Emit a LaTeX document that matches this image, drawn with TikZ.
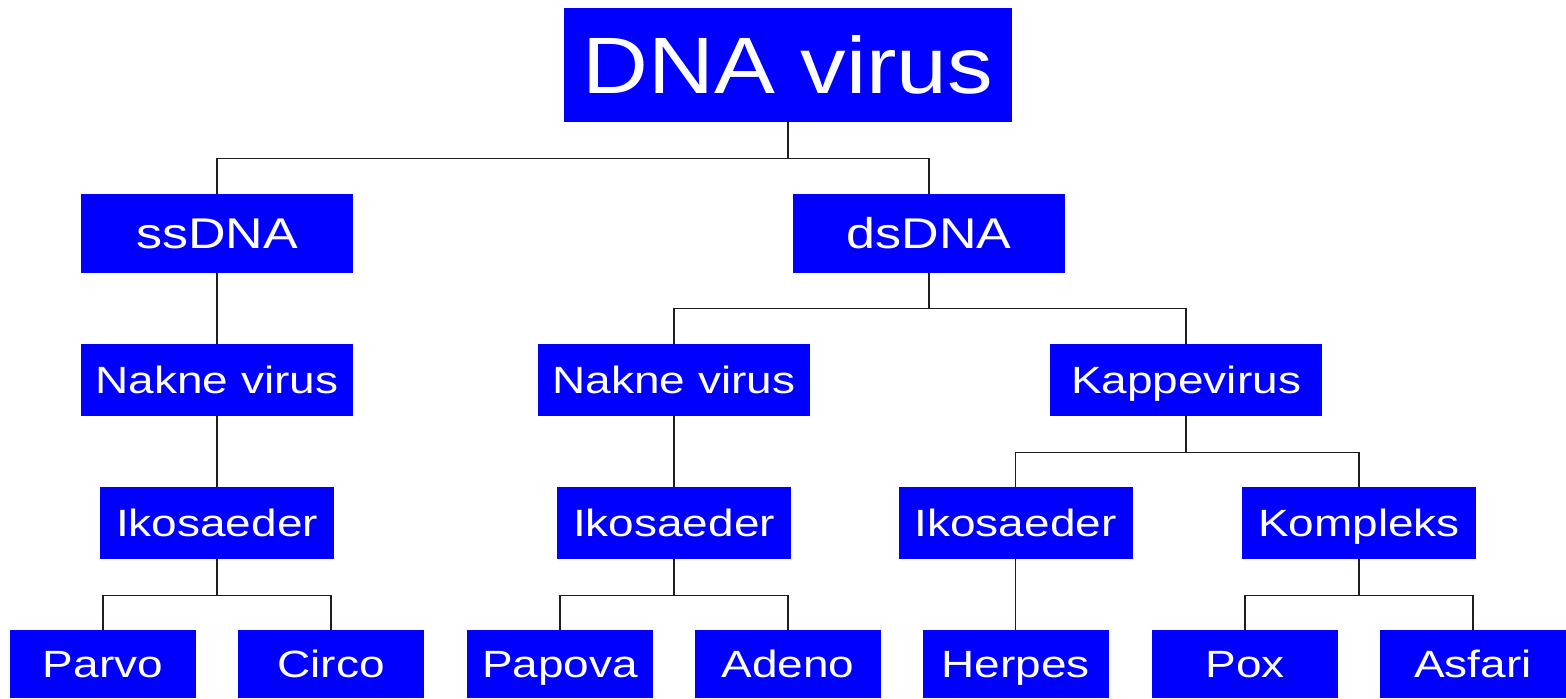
\documentclass[tikz,border=0pt]{standalone}
\usepackage{fontspec}
\setmainfont{Liberation Sans}
\newfontfamily\rootfont[FakeStretch=1.14]{Liberation Sans}
\newfontfamily\labelfont[FakeStretch=1.21]{Liberation Sans}
\definecolor{boxblue}{RGB}{0,0,255}
\definecolor{linkgray}{RGB}{30,30,30}
\begin{document}
\begin{tikzpicture}[x=0.5pt,y=-0.5pt,
  box/.style={rectangle, fill=boxblue, text=white, inner sep=0pt,
    text depth=0pt, anchor=center},
  rootbox/.style={box, minimum width=224pt, minimum height=57pt,
    text height=28.6pt, font=\rootfont\fontsize{40}{40}\selectfont},
  topbox/.style={box, minimum width=136pt, minimum height=39.5pt,
    text height=15.4pt, font=\labelfont\fontsize{21.5}{22}\selectfont},
  midbox/.style={box, minimum width=136pt, minimum height=36pt,
    text height=13.6pt, font=\labelfont\fontsize{19}{20}\selectfont},
  ikobox/.style={midbox, minimum width=117pt},
  leafbox/.style={midbox, minimum width=93pt, minimum height=34pt},
  link/.style={draw=linkgray, line width=0.75pt}]
\useasboundingbox (0,0) rectangle (1566,698);

% levels
\node[rootbox] (root) at (788,65) {DNA virus};
\node[topbox] (ss) at (217,233.5) {ssDNA};
\node[topbox] (ds) at (929,233.5) {dsDNA};
\node[midbox] (nakA) at (217,380) {Nakne virus};
\node[midbox] (nakB) at (674,380) {Nakne virus};
\node[midbox] (kap) at (1186,380) {Kappevirus};
\node[ikobox] (ikoA) at (217,523) {Ikosaeder};
\node[ikobox] (ikoB) at (674,523) {Ikosaeder};
\node[ikobox] (ikoC) at (1015.5,523) {Ikosaeder};
\node[ikobox] (komp) at (1359,523) {Kompleks};
\node[leafbox] (parvo) at (103,664) {Parvo};
\node[leafbox] (circo) at (331,664) {Circo};
\node[leafbox] (papova) at (560,664) {Papova};
\node[leafbox] (adeno) at (788,664) {Adeno};
\node[leafbox] (herpes) at (1015.5,664) {Herpes};
\node[leafbox] (pox) at (1245,664) {Pox};
\node[leafbox] (asfari) at (1473,664) {Asfari};

% connectors
\draw[link] (root.south) -- ++(0,36) -| (ss.north);
\draw[link] (root.south) -- ++(0,36) -| (ds.north);
\draw[link] (ss.south) -- (nakA.north);
\draw[link] (ds.south) -- ++(0,35) -| (nakB.north);
\draw[link] (ds.south) -- ++(0,35) -| (kap.north);
\draw[link] (nakA.south) -- (ikoA.north);
\draw[link] (nakB.south) -- (ikoB.north);
\draw[link] (kap.south) -- ++(0,36) -| (ikoC.north);
\draw[link] (kap.south) -- ++(0,36) -| (komp.north);
\draw[link] (ikoA.south) -- ++(0,36) -| (parvo.north);
\draw[link] (ikoA.south) -- ++(0,36) -| (circo.north);
\draw[link] (ikoB.south) -- ++(0,36) -| (papova.north);
\draw[link] (ikoB.south) -- ++(0,36) -| (adeno.north);
\draw[link] (ikoC.south) -- (herpes.north);
\draw[link] (komp.south) -- ++(0,36) -| (pox.north);
\draw[link] (komp.south) -- ++(0,36) -| (asfari.north);
\end{tikzpicture}
\end{document}
